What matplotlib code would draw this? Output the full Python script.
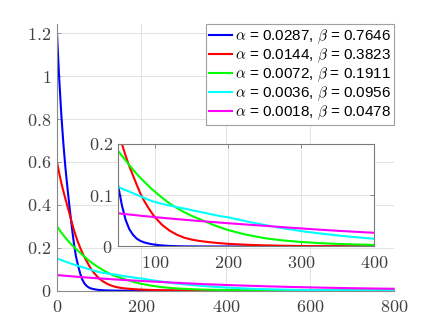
import numpy as np
import matplotlib
matplotlib.use("Agg")
import matplotlib.pyplot as plt

plt.rcParams["mathtext.fontset"] = "cm"
plt.rcParams["font.family"] = ["Liberation Sans", "DejaVu Sans"]

# --------------------------------
# Data
# --------------------------------
x = [0, 5, 10, 15, 20, 25, 30, 35, 40, 45, 50, 55, 60, 65, 70, 75, 80, 85, 90, 95, 100,
     110, 120, 130, 140, 150, 160, 170, 180, 190, 200,
     225, 250, 275, 300, 325, 350, 375, 400,
     450, 500, 550, 600, 650, 700, 750, 800]

y_blue = [1.2, 0.997, 0.829, 0.689, 0.573, 0.476, 0.385, 0.300, 0.222, 0.160, 0.117,
          0.080, 0.052, 0.034, 0.023, 0.0155, 0.0110, 0.0082, 0.0062, 0.0047, 0.0035,
          0.0020, 0.0011, 0.0006, 0.0003, 0.0002, 0.0001, 0, 0, 0, 0,
          0, 0, 0, 0, 0, 0, 0, 0,
          0, 0, 0, 0, 0, 0, 0, 0]

y_red = [0.6, 0.55, 0.505, 0.465, 0.428, 0.392, 0.356, 0.319, 0.284, 0.253, 0.225,
         0.200, 0.177, 0.157, 0.139, 0.121, 0.104, 0.090, 0.078, 0.067, 0.057,
         0.042, 0.031, 0.023, 0.0172, 0.0135, 0.011, 0.0092, 0.0076, 0.0063, 0.0052,
         0.0034, 0.0022, 0.0015, 0.0010, 0.0007, 0.0005, 0.0003, 0.0002,
         0, 0, 0, 0, 0, 0, 0, 0]

y_green = [0.300, 0.286, 0.272, 0.259, 0.247, 0.235, 0.224, 0.214, 0.204, 0.195, 0.186,
           0.177, 0.168, 0.159, 0.150, 0.142, 0.134, 0.127, 0.120, 0.113, 0.107,
           0.095, 0.084, 0.075, 0.067, 0.060, 0.054, 0.048, 0.042, 0.037, 0.032,
           0.023, 0.0162, 0.0118, 0.0088, 0.0066, 0.0050, 0.0039, 0.0030,
           0.0018, 0.0011, 0.0007, 0.0004, 0.0002, 0.0001, 0.0001, 0]

y_cyan = [0.150, 0.146, 0.143, 0.139, 0.136, 0.132, 0.129, 0.125, 0.122, 0.119, 0.116,
          0.113, 0.110, 0.107, 0.104, 0.101, 0.098, 0.095, 0.092, 0.089, 0.087,
          0.083, 0.080, 0.077, 0.074, 0.071, 0.068, 0.065, 0.062, 0.059, 0.057,
          0.049, 0.042, 0.0355, 0.030, 0.0255, 0.0215, 0.018, 0.015,
          0.010, 0.0068, 0.0046, 0.0031, 0.0021, 0.0014, 0.0010, 0.0007]

y_magenta = [0.0730, 0.0721, 0.0713, 0.0704, 0.0696, 0.0687, 0.0679, 0.0671, 0.0663, 0.0655, 0.0647,
             0.0639, 0.0631, 0.0624, 0.0616, 0.0609, 0.0601, 0.0594, 0.0587, 0.0580, 0.0573,
             0.0560, 0.0547, 0.0534, 0.0522, 0.0510, 0.0498, 0.0487, 0.0476, 0.0465, 0.0454,
             0.0428, 0.0404, 0.0377, 0.0352, 0.0328, 0.0306, 0.0286, 0.0267,
             0.0233, 0.0203, 0.0177, 0.0154, 0.0134, 0.0117, 0.0102, 0.0089]

labels = [r"$\alpha$ = 0.0287, $\beta$ = 0.7646",
          r"$\alpha$ = 0.0144, $\beta$ = 0.3823",
          r"$\alpha$ = 0.0072, $\beta$ = 0.1911",
          r"$\alpha$ = 0.0036, $\beta$ = 0.0956",
          r"$\alpha$ = 0.0018, $\beta$ = 0.0478"]
colors = ["#0000ff", "#ff0000", "#00ff00", "#00ffff", "#ff00ff"]
series = [y_blue, y_red, y_green, y_cyan, y_magenta]

main_xticks = [0, 200, 400, 600, 800]
main_yticks = [0, 0.2, 0.4, 0.6, 0.8, 1, 1.2]
inset_xticks = [100, 200, 300, 400]
inset_yticks = [0, 0.1, 0.2]

# --------------------------------
# Styling helpers
# --------------------------------
TXT = "#404040"
GRID = "#e3e3e3"


def style_axes(ax, xt, yt, spine_color, box):
    ax.set_xticks(xt)
    ax.set_yticks(yt)
    ax.set_xticklabels([f"${t:g}$" for t in xt])
    ax.set_yticklabels([f"${t:g}$" for t in yt])
    ax.tick_params(direction="in", length=3, width=0.6, color=spine_color,
                   labelcolor=TXT, labelsize=13, top=box, right=box)
    ax.tick_params(axis="x", pad=6)
    ax.tick_params(axis="y", pad=4)
    ax.grid(True, color=GRID, linewidth=0.7)
    ax.set_axisbelow(True)
    for side in ["left", "bottom", "top", "right"]:
        ax.spines[side].set_color(spine_color)
        ax.spines[side].set_linewidth(0.8)
    if not box:
        ax.spines["top"].set_visible(False)
        ax.spines["right"].set_visible(False)


# --------------------------------
# Plot
# --------------------------------
fig = plt.figure(figsize=(4.36, 3.27), dpi=100)

ax = fig.add_axes([0.1307, 0.111, 0.774, 0.8156])
for ys, c, lab in zip(series, colors, labels):
    ax.plot(x, ys, color=c, linewidth=1.5, label=lab)
ax.set_xlim(0, 800)
ax.set_ylim(0, 1.243)
style_axes(ax, main_xticks, main_yticks, "#8a8a8a", box=False)

leg = ax.legend(loc="upper right", bbox_to_anchor=(1.0, 1.0), borderaxespad=0,
                fontsize=11, handlelength=1.5, handletextpad=0.2,
                labelspacing=0.04, borderpad=0.22, fancybox=False,
                framealpha=1, edgecolor="#a0a0a0")
leg.get_frame().set_linewidth(0.8)

# Inset
axins = fig.add_axes([0.2713, 0.2462, 0.5876, 0.3135])
axins.set_facecolor("white")
for ys, c in zip(series, colors):
    axins.plot(x, ys, color=c, linewidth=1.5)
axins.set_xlim(50, 400)
axins.set_ylim(0, 0.2)
style_axes(axins, inset_xticks, inset_yticks, "#7a7a7a", box=True)

fig.savefig("out.png", dpi=100)
plt.close(fig)
